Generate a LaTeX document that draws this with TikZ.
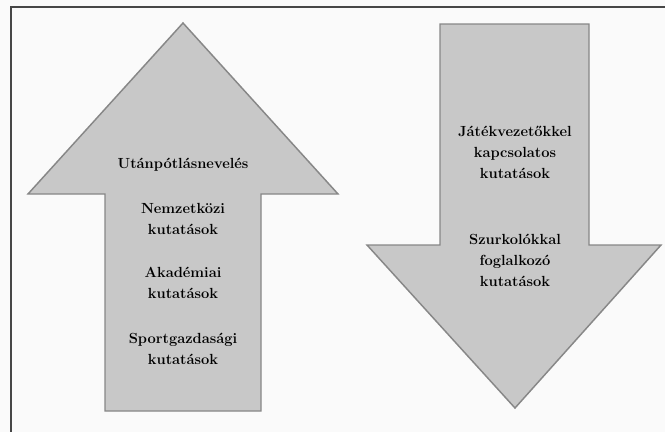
\documentclass[tikz,border=0pt]{standalone}
\usepackage{fontspec}
\usepackage{tikz}
\usetikzlibrary{positioning}
\definecolor{arrowfill}{RGB}{200,200,200}
\definecolor{arrowline}{RGB}{135,135,135}
\definecolor{frameline}{RGB}{70,70,70}
\tikzset{arrow shape/.style={fill=arrowfill,draw=arrowline,line width=1.1pt,line join=miter},
	label node/.style={align=center,inner sep=0pt,font=\bfseries\fontsize{11}{15.75}\selectfont},}

\begin{document}
\begin{tikzpicture}[x=0.75pt, y=-0.75pt]
	\useasboundingbox (0,0) rectangle (665,432);
	\fill[white!98!black] (0,0) rectangle (665,432);
	\draw[frameline, line width=1.1pt] (11,432) -- (11,7) -- (665,7);

	% up arrow
	\draw[arrow shape] (183,23) -- (338,194) -- (261,194) -- (261,411)
		-- (105,411) -- (105,194) -- (28,194) -- cycle;
	% down arrow
	\draw[arrow shape] (440,24) -- (589,24) -- (589,245) -- (661,245)
		-- (515,408) -- (367,245) -- (440,245) -- cycle;

	\node[label node] (utan) at (183,165) {Utánpótlásnevelés};
	\node[label node] (nemz) at (183,218.5) {Nemzetközi\\kutatások};
	\node[label node] (akad) at (183,283) {Akadémiai\\kutatások};
	\node[label node] (sport) at (183,348.5) {Sportgazdasági\\kutatások};

	\node[label node] (jatek) at (515,152) {Játékvezetőkkel\\kapcsolatos\\kutatások};
	\node[label node] (szurk) at (515,260) {Szurkolókkal\\foglalkozó\\kutatások};
\end{tikzpicture}
\end{document}
